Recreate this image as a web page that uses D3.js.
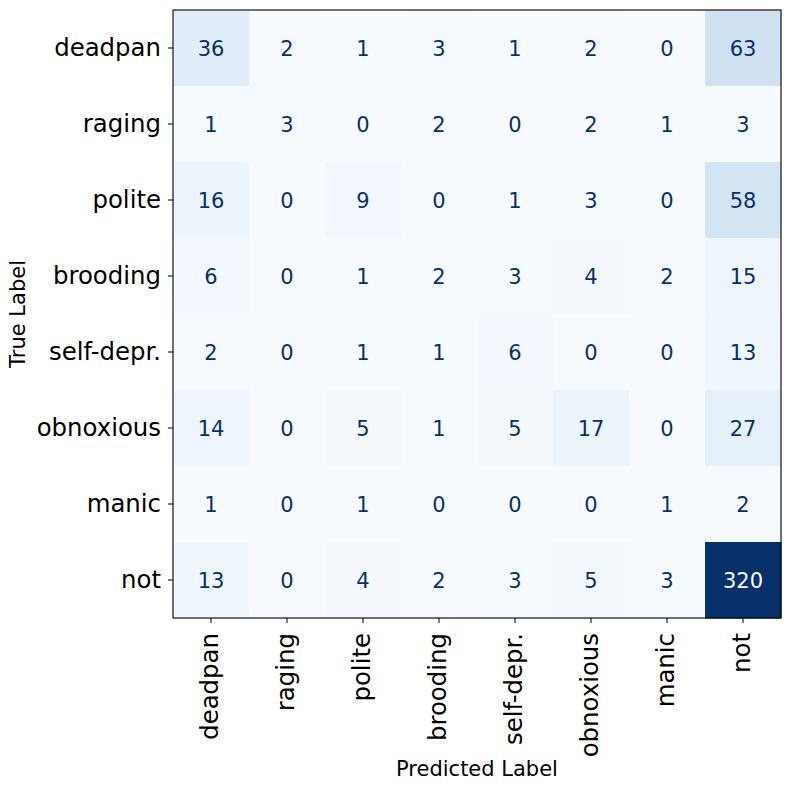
<!DOCTYPE html>
<html>
<head>
<meta charset="utf-8">
<script src="https://cdn.jsdelivr.net/npm/d3@7"></script>
<style>
  body { margin: 0; background: #fff; }
  text { font-family: "DejaVu Sans", sans-serif; }
</style>
</head>
<body>
<svg id="chart" width="790" height="790"></svg>
<script>
// class labels (rows = true, columns = predicted)
var labels = ["deadpan","raging","polite","brooding","self-depr.","obnoxious","manic","not"];

// confusion matrix counts, one array per true label
var deadpanRow   = [36, 2, 1, 3, 1, 2, 0, 63];
var ragingRow    = [1, 3, 0, 2, 0, 2, 1, 3];
var politeRow    = [16, 0, 9, 0, 1, 3, 0, 58];
var broodingRow  = [6, 0, 1, 2, 3, 4, 2, 15];
var selfDeprRow  = [2, 0, 1, 1, 6, 0, 0, 13];
var obnoxiousRow = [14, 0, 5, 1, 5, 17, 0, 27];
var manicRow     = [1, 0, 1, 0, 0, 0, 1, 2];
var notRow       = [13, 0, 4, 2, 3, 5, 3, 320];

var matrix = [deadpanRow, ragingRow, politeRow, broodingRow, selfDeprRow, obnoxiousRow, manicRow, notRow];

var plotLeft = 173, plotTop = 10, plotSize = 608;

var svg = d3.select("#chart");

var cells = [];
for (var i = 0; i < matrix.length; i++) {
	for (var j = 0; j < matrix[i].length; j++) {
		cells.push({row: labels[i], col: labels[j], v: matrix[i][j]});
	}
}

var vmax = d3.max(cells, function(d){ return d.v; });
var vmin = d3.min(cells, function(d){ return d.v; });

var blues = ["#f7fbff","#deebf7","#c6dbef","#9ecae1","#6baed6","#4292c6","#2171b5","#08519c","#08306b"];
var color = d3.scaleLinear()
	.domain(d3.range(9).map(function(k){ return vmin + (vmax - vmin) * k / 8; }))
	.range(blues);

var x = d3.scaleBand().domain(labels).range([plotLeft, plotLeft + plotSize]);
var y = d3.scaleBand().domain(labels).range([plotTop, plotTop + plotSize]);

var g = svg.append("g");

g.selectAll("rect.cell")
	.data(cells)
	.enter()
	.append("rect")
	.attr("class","cell")
	.attr("x", function(d){ return x(d.col); })
	.attr("y", function(d){ return y(d.row); })
	.attr("width", x.bandwidth() + 0.5)
	.attr("height", y.bandwidth() + 0.5)
	.attr("fill", function(d){ return color(d.v); });

var thresh = (vmax + vmin) / 2;
g.selectAll("text.val")
	.data(cells)
	.enter()
	.append("text")
	.attr("class","val")
	.attr("x", function(d){ return x(d.col) + x.bandwidth() / 2; })
	.attr("y", function(d){ return y(d.row) + y.bandwidth() / 2; })
	.attr("dy", "0.36em")
	.attr("text-anchor","middle")
	.style("font-size","21px")
	.attr("fill", function(d){ return d.v > thresh ? blues[0] : blues[8]; })
	.text(function(d){ return d.v; });

// frame
svg.append("rect")
	.attr("x", plotLeft).attr("y", plotTop)
	.attr("width", plotSize).attr("height", plotSize)
	.attr("fill","none")
	.attr("stroke","#000")
	.attr("stroke-width",1.1);

var yAxis = d3.axisLeft(y).tickSize(5).tickPadding(7).tickSizeOuter(0);
var gy = svg.append("g")
	.attr("transform","translate(" + plotLeft + ",0)")
	.call(yAxis);
gy.select(".domain").remove();
gy.selectAll("text")
	.style("font-size","24.4px")
	.attr("fill","#000")
	.attr("font-family","DejaVu Sans");

var xAxis = d3.axisBottom(x).tickSize(5).tickPadding(10).tickSizeOuter(0);
var gx = svg.append("g")
	.attr("transform","translate(0," + (plotTop + plotSize) + ")")
	.call(xAxis);
gx.select(".domain").remove();
gx.selectAll("text")
	.style("font-size","24.4px")
	.attr("fill","#000")
	.attr("font-family","DejaVu Sans")
	.attr("transform","rotate(-90)")
	.attr("x", -15)
	.attr("y", 0)
	.attr("dy","0.3em")
	.style("text-anchor","end");

svg.append("text")
	.attr("transform","translate(25," + (plotTop + plotSize / 2) + ") rotate(-90)")
	.attr("text-anchor","middle")
	.style("font-size","21px")
	.text("True Label");

svg.append("text")
	.attr("x", plotLeft + plotSize / 2)
	.attr("y", 776)
	.attr("text-anchor","middle")
	.style("font-size","21px")
	.text("Predicted Label");
</script>
</body>
</html>
